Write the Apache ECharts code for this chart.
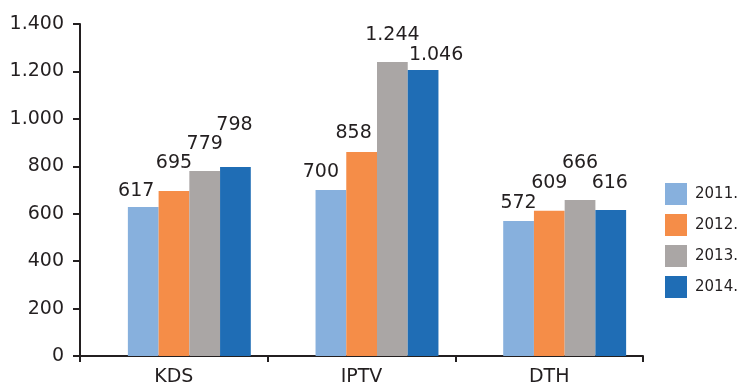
<!DOCTYPE html>
<html>
<head>
<meta charset="utf-8">
<script src="https://cdn.jsdelivr.net/npm/echarts@6/dist/echarts.min.js"></script>
<style>html,body{margin:0;padding:0;background:#fff}#c{width:738px;height:388px}</style>
</head>
<body>
<div id="c"></div>
<script>
// ---- data ----
var categories = ['KDS', 'IPTV', 'DTH'];
var years = ['2011.', '2012.', '2013.', '2014.'];
var v2011 = [628, 700, 569];
var v2012 = [696, 860, 612];
var v2013 = [780, 1240, 658];
var v2014 = [797, 1206, 616];
var lab2011 = ['617', '700', '572'];
var lab2012 = ['695', '858', '609'];
var lab2013 = ['779', '1.244', '666'];
var lab2014 = ['798', '1.046', '616'];
var yTickLabels = ['0', '200', '400', '600', '800', '1.000', '1.200', '1.400'];

// ---- styling ----
var colors = ['#87b0dd', '#f58d48', '#aaa6a5', '#1f6db5'];
var labelOffsets = [
  [[-7, -7], [-10, -8], [0, -9]],
  [[0, -18], [-8, -9], [0, -18]],
  [[0, -17], [0, -17], [0, -27]],
  [[-1, -32], [13, -5], [-1, -17]]
];
var FONT = 'DejaVu Sans';
var TXT = '#231f20';

var values = [v2011, v2012, v2013, v2014];
var labels = [lab2011, lab2012, lab2013, lab2014];

var chart = echarts.init(document.getElementById('c'), null, {renderer: 'canvas'});

var series = years.map(function (y, si) {
  return {
    name: y,
    type: 'bar',
    xAxisIndex: 1,
    yAxisIndex: 1,
    barGap: '0%',
    barCategoryGap: '34.5%',
    itemStyle: {color: colors[si]},
    data: values[si].map(function (v, ci) {
      return {
        value: v,
        label: {
          show: true,
          position: 'top',
          distance: 0,
          offset: labelOffsets[si][ci],
          formatter: labels[si][ci],
          fontFamily: FONT,
          fontSize: 19,
          color: TXT
        }
      };
    })
  };
});

var option = {
  animation: false,
  color: colors,
  legend: {
    data: years,
    orient: 'vertical',
    left: 665,
    top: 183,
    padding: 0,
    itemWidth: 22,
    itemHeight: 22,
    itemGap: 9,
    icon: 'rect',
    textStyle: {fontFamily: FONT, fontSize: 15, color: TXT, padding: [0, 0, 0, 3]}
  },
  grid: [
    {left: 80, right: 95, top: 24, bottom: 32},
    {left: 95.5, right: 79.5, top: 24, bottom: 32}
  ],
  xAxis: [
    {
      type: 'category', gridIndex: 0, data: categories,
      axisLine: {lineStyle: {color: TXT, width: 2}},
      axisTick: {show: true, length: 6, lineStyle: {color: TXT, width: 2}},
      axisLabel: {fontFamily: FONT, fontSize: 19, color: TXT, margin: 12}
    },
    {
      type: 'category', gridIndex: 1, data: categories, show: false
    }
  ],
  yAxis: [
    {
      type: 'value', gridIndex: 0, min: 0, max: 1400, interval: 200,
      axisLine: {show: true, lineStyle: {color: TXT, width: 2}},
      axisTick: {show: true, length: 7, lineStyle: {color: TXT, width: 2}},
      splitLine: {show: false},
      axisLabel: {
        fontFamily: FONT, fontSize: 19, color: TXT, margin: 16,
        formatter: function (v) { return yTickLabels[Math.round(v / 200)]; }
      }
    },
    {
      type: 'value', gridIndex: 1, min: 0, max: 1400, interval: 200, show: false
    }
  ],
  series: series
};
chart.setOption(option);
</script>
</body>
</html>
